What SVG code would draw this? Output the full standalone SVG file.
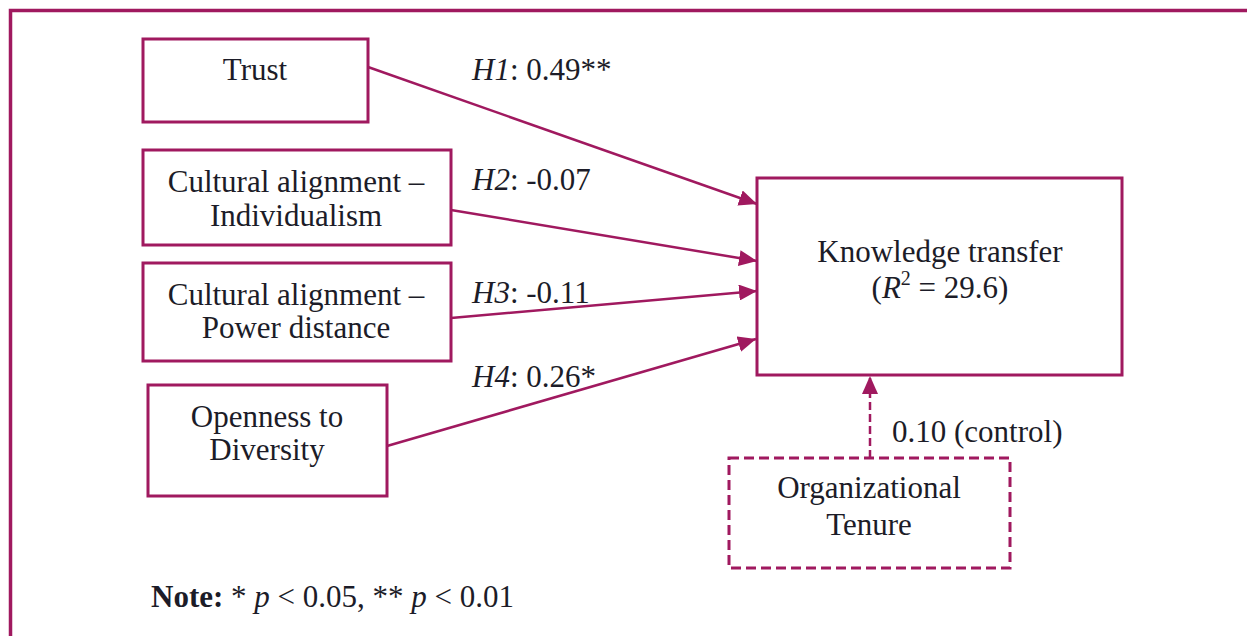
<svg xmlns="http://www.w3.org/2000/svg" width="1247" height="636" viewBox="0 0 1247 636">
<style>
.box{fill:#fff;stroke:#A0195F;stroke-width:3}
.dash{stroke-dasharray:10 5}
.edge{stroke:#A0195F;stroke-width:2.5;fill:none}
text{font-family:"Liberation Serif","Times New Roman",serif;font-size:31px;fill:#1c1c28}
.c{text-anchor:middle}
.i{font-style:italic}
</style>
<defs>
<marker id="ah" viewBox="0 0 18 16" refX="18" refY="8" markerWidth="18" markerHeight="16" markerUnits="userSpaceOnUse" orient="auto">
<path d="M0,0 L18,8 L0,16 z" fill="#A0195F"/>
</marker>
</defs>
<rect width="1247" height="636" fill="#fff"/>
<path id="frame" d="M10.5,636 V10.5 H1247" fill="none" stroke="#A0195F" stroke-width="3.5"/>

<g id="trust"><rect class="box" x="143" y="39" width="225" height="83"/><text class="c" x="255" y="80">Trust</text></g>
<g id="individualism"><rect class="box" x="143" y="150" width="308" height="95"/><text class="c" x="296" y="192">Cultural alignment –</text><text class="c" x="296" y="226">Individualism</text></g>
<g id="powerdistance"><rect class="box" x="143" y="263" width="308" height="98"/><text class="c" x="296" y="305">Cultural alignment –</text><text class="c" x="296" y="338">Power distance</text></g>
<g id="openness"><rect class="box" x="148" y="385" width="239" height="111"/><text class="c" x="267" y="427">Openness to</text><text class="c" x="267" y="460">Diversity</text></g>
<g id="knowledge"><rect class="box" x="757" y="178" width="365" height="197"/><text class="c" x="940" y="262">Knowledge transfer</text><text class="c" x="940" y="298">(<tspan class="i">R</tspan><tspan font-size="20" dy="-13">2</tspan><tspan dy="13"> = 29.6)</tspan></text></g>
<g id="tenure"><rect class="box dash" x="729" y="458" width="281" height="110"/><text class="c" x="869" y="498">Organizational</text><text class="c" x="869" y="535">Tenure</text></g>

<g id="connectors">
<line class="edge" x1="368" y1="67" x2="757" y2="204" marker-end="url(#ah)"/>
<line class="edge" x1="451" y1="210" x2="757" y2="261" marker-end="url(#ah)"/>
<line class="edge" x1="451" y1="318" x2="757" y2="291" marker-end="url(#ah)"/>
<line class="edge" x1="387" y1="446" x2="756" y2="339" marker-end="url(#ah)"/>
<line class="edge" x1="870" y1="458" x2="870" y2="376" stroke-dasharray="8 4" marker-end="url(#ah)"/>
<text x="472" y="80"><tspan class="i">H1</tspan>: 0.49**</text>
<text x="472" y="190"><tspan class="i">H2</tspan>: -0.07</text>
<text x="472" y="303"><tspan class="i">H3</tspan>: -0.11</text>
<text x="472" y="387"><tspan class="i">H4</tspan>: 0.26*</text>
<text x="892" y="442">0.10 (control)</text>
</g>

<text x="151" y="607"><tspan font-weight="bold">Note:</tspan> * <tspan class="i">p</tspan> &lt; 0.05, ** <tspan class="i">p</tspan> &lt; 0.01</text>
</svg>
